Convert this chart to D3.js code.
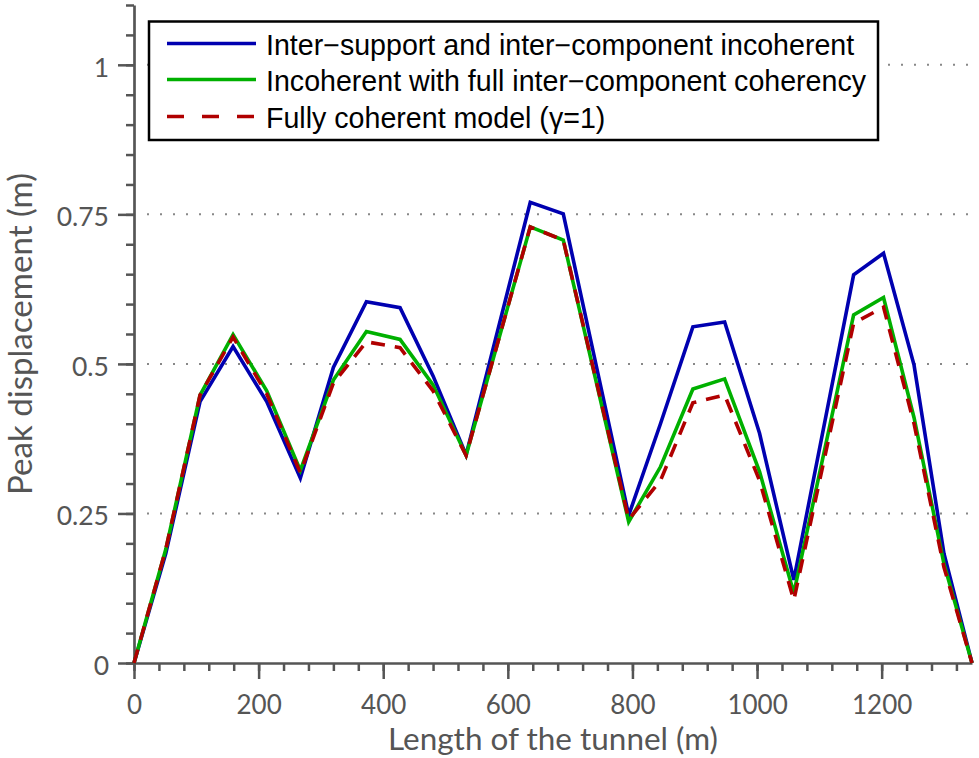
<!DOCTYPE html>
<html><head><meta charset="utf-8">
<script src="https://cdn.jsdelivr.net/npm/d3@7"></script>
<style>body{margin:0;background:#fff}svg{display:block}</style>
</head><body>
<svg id="chart" width="979" height="758"></svg>
<script>
// ---- data ----
const distance = [0, 51, 106, 159, 213, 267, 320, 373, 427, 480, 533, 636, 689, 794, 845, 897, 948, 1004, 1059, 1155, 1203, 1252, 1300, 1345];
const incoherent = [0, 0.183, 0.437, 0.529, 0.437, 0.309, 0.494, 0.604, 0.594, 0.48, 0.348, 0.770, 0.751, 0.247, 0.40, 0.562, 0.570, 0.384, 0.139, 0.649, 0.685, 0.498, 0.183, 0];
const fullComponentCoherency = [0, 0.19, 0.448, 0.549, 0.455, 0.322, 0.473, 0.554, 0.541, 0.465, 0.347, 0.729, 0.707, 0.236, 0.328, 0.458, 0.475, 0.32, 0.117, 0.582, 0.611, 0.41, 0.166, 0];
const fullyCoherent = [0, 0.19, 0.448, 0.545, 0.45, 0.318, 0.468, 0.537, 0.527, 0.455, 0.347, 0.729, 0.707, 0.24, 0.305, 0.435, 0.448, 0.305, 0.105, 0.568, 0.595, 0.40, 0.16, 0];
const seriesNames = ["Inter\u2212support and inter\u2212component incoherent", "Incoherent with full inter\u2212component coherency", "Fully coherent model (\u03b3=1)"];
const xTicks = [0, 200, 400, 600, 800, 1000, 1200];
const yTicks = [0, 0.25, 0.5, 0.75, 1];
const yTickLabels = ["0", "0.25", "0.5", "0.75", "1"];
const xLabel = "Length of the tunnel (m)";
const yLabel = "Peak displacement (m)";

// ---- layout ----
const L = 134, R = 972, T = 5, B = 663;
const axisColor = "#555";
const svg = d3.select("#chart");
const x = d3.scaleLinear().domain([0, 1345]).range([L, R]);
const y = d3.scaleLinear().domain([0, 1.1]).range([B, T]);

// grid (dotted)
svg.append("g").selectAll("line").data(yTicks.filter(d => d > 0)).join("line")
  .attr("x1", L + 13).attr("x2", 979).attr("y1", d => y(d)).attr("y2", d => y(d))
  .attr("stroke", "#888").attr("stroke-width", 2).attr("stroke-dasharray", "2,11");

const tickFont = "Lato, 'DejaVu Sans', sans-serif";

// minor ticks
const xMinor = d3.range(0, 1345, 40);
const yMinor = d3.range(0, 1.1001, 0.05);
svg.append("g").attr("transform", `translate(0,${B})`)
  .call(d3.axisBottom(x).tickValues(xMinor).tickSize(8).tickSizeOuter(0).tickFormat(""))
  .call(g => g.select(".domain").remove());
svg.append("g").attr("transform", `translate(${L},0)`)
  .call(d3.axisLeft(y).tickValues(yMinor).tickSize(8).tickSizeOuter(0).tickFormat(""))
  .call(g => g.select(".domain").remove());

// major axes
const gx = svg.append("g").attr("transform", `translate(0,${B})`)
  .call(d3.axisBottom(x).tickValues(xTicks).tickSize(16).tickSizeOuter(0).tickPadding(0).tickFormat(d3.format("d")));
const gy = svg.append("g").attr("transform", `translate(${L},0)`)
  .call(d3.axisLeft(y).tickValues(yTicks).tickSize(16).tickSizeOuter(0).tickFormat((d, i) => yTickLabels[i]));

svg.selectAll("g").attr("font-family", tickFont);
svg.selectAll(".tick line").attr("stroke", axisColor).attr("stroke-width", 2.5);
[gx, gy].forEach(g => g.select(".domain").attr("stroke", axisColor).attr("stroke-width", 2.7));
gx.selectAll(".tick text").attr("y", 51).attr("dy", null)
  .attr("font-family", tickFont).attr("font-size", 26).attr("fill", axisColor);
gy.selectAll(".tick text").attr("x", -25).attr("dy", "0.43em")
  .attr("font-family", tickFont).attr("font-size", 26.5).attr("fill", axisColor);

// axis labels
const xl = svg.append("text").attr("x", (L + R) / 2).attr("y", 750).attr("text-anchor", "middle")
  .attr("font-family", tickFont).attr("font-size", 27).attr("fill", axisColor).text(xLabel);
const yl = svg.append("text").attr("transform", `translate(32,${(T + B) / 2}) rotate(-90)`).attr("text-anchor", "middle")
  .attr("font-family", tickFont).attr("font-size", 27).attr("fill", axisColor).text(yLabel);
function fit(t, w) { const cur = t.node().getComputedTextLength(); t.attr("font-size", 27 * w / cur); }
fit(xl, 330); fit(yl, 322);

// lines
const series = [
  { v: incoherent, color: "#0000b0", dash: null },
  { v: fullComponentCoherency, color: "#00b000", dash: null },
  { v: fullyCoherent, color: "#b00000", dash: "14,10" }
];
const line = d3.line().x(d => x(d[0])).y(d => y(d[1]));
series.forEach(s => {
  svg.append("path").datum(distance.map((d, i) => [d, s.v[i]]))
    .attr("d", line).attr("fill", "none").attr("stroke", s.color).attr("stroke-width", 3.6)
    .attr("stroke-linejoin", "miter").attr("stroke-dasharray", s.dash);
});

// legend
const lg = svg.append("g");
lg.append("rect").attr("x", 149).attr("y", 21.5).attr("width", 729).attr("height", 118.5)
  .attr("fill", "#fff").attr("stroke", "#000").attr("stroke-width", 2.5);
const rows = [43.5, 79.5, 116.5];
series.forEach((s, i) => {
  lg.append("line").attr("x1", 167).attr("x2", 256).attr("y1", rows[i]).attr("y2", rows[i])
    .attr("stroke", s.color).attr("stroke-width", 3.6).attr("stroke-dasharray", s.dash ? "17,18" : null);
  lg.append("text").attr("x", 266).attr("y", rows[i] + 11.5)
    .attr("font-family", "'Liberation Sans', Arial, sans-serif").attr("font-size", 28.6).attr("fill", "#000")
    .text(seriesNames[i]);
});
</script>
</body></html>
